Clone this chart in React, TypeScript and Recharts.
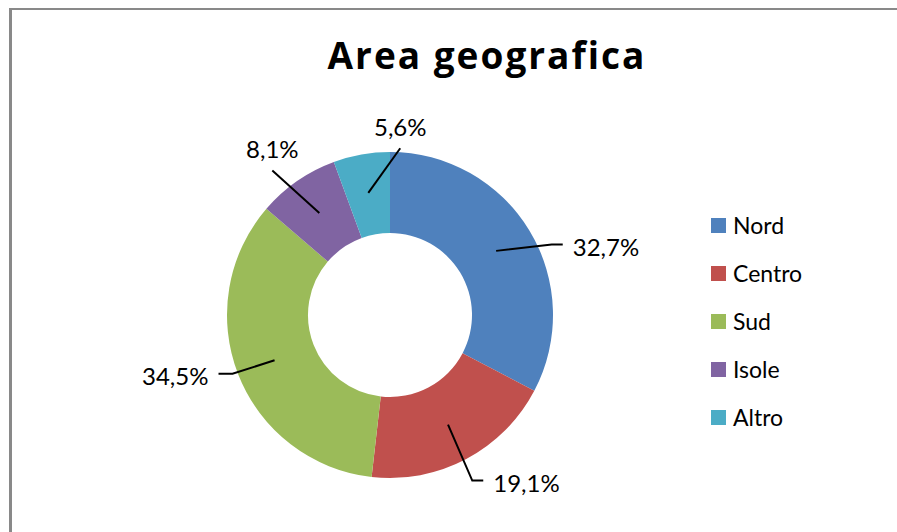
import { Legend, Pie, PieChart, Cell } from "recharts";

const regions = ["Nord", "Centro", "Sud", "Isole", "Altro"];
const shares = [32.7, 19.1, 34.5, 8.1, 5.6];
const colors = ["#4F81BD", "#C0504D", "#9BBB59", "#8064A2", "#4BACC6"];
// where each label sits, relative to its radial spot (layout only)
const labelNudge: [number, number][] = [[3, 40], [5, -18], [14, -16], [2, 6], [47, 18]];

const data = regions.map((name, i) => ({ name, value: shares[i] }));

const RAD = Math.PI / 180;
const labelFont = "Lato, 'Open Sans', sans-serif";

const renderLabel = (props: any) => {
  const { cx, cy, midAngle, index, value } = props;
  const cos = Math.cos(-midAngle * RAD);
  const sin = Math.sin(-midAngle * RAD);
  const sx = cx + 124 * cos;
  const sy = cy + 124 * sin;
  const [dx, dy] = labelNudge[index];
  const ax = cx + 210 * cos + dx;
  const ay = cy + 210 * sin + dy;
  const up = Math.sin(midAngle * RAD) > 0.7;
  const anchor = up ? "middle" : cos > 0 ? "start" : "end";
  let pts: number[][];
  if (up) pts = [[sx, sy], [ax, ay + 22]];
  else if (cos > 0) pts = [[sx, sy], [ax - 21, ay - 2], [ax - 10, ay - 2]];
  else pts = [[sx, sy], [ax + 24, ay - 2], [ax + 10, ay - 2]];
  return (
    <g key={`lbl-${index}`}>
      <polyline points={pts.map((p) => p.join(",")).join(" ")} fill="none" stroke="#000" strokeWidth={2} />
      <text x={ax} y={ay} textAnchor={anchor} dominantBaseline="central" fontFamily={labelFont} fontSize={24} fill="#000">
        {String(value).replace(".", ",")}%
      </text>
    </g>
  );
};

const renderLegend = (props: any) => {
  const payload = [...(props.payload || [])].sort(
    (a: any, b: any) => regions.indexOf(a.value) - regions.indexOf(b.value)
  );
  return (
    <div>
      {payload.map((entry: any) => (
        <div key={entry.value} style={{ display: "flex", alignItems: "center", height: 48 }}>
          <span style={{ width: 15, height: 15, background: entry.color, display: "inline-block" }} />
          <span style={{ marginLeft: 7, fontFamily: labelFont, fontSize: 23, color: "#000" }}>{entry.value}</span>
        </div>
      ))}
    </div>
  );
};

export default function App() {
  return (
    <div style={{ position: "fixed", left: 0, top: 0, width: 897, height: 532, overflow: "hidden", background: "#fff" }}>
      <div style={{ position: "absolute", left: 9, top: 8, width: 888, height: 2, background: "#898989" }} />
      <div style={{ position: "absolute", left: 9, top: 8, width: 3, height: 524, background: "#898989" }} />
      <svg width={897} height={532} style={{ position: "absolute", left: 0, top: 0 }}>
        <text x={487} y={69} textAnchor="middle" fontFamily="'Open Sans', sans-serif" fontWeight={700} fontSize={37} letterSpacing={2} fill="#000">
          Area geografica
        </text>
      </svg>
      <div style={{ position: "absolute", left: 0, top: 0 }}>
        <PieChart width={897} height={532} margin={{ top: 0, right: 0, bottom: 0, left: 0 }}>
          <Pie
            data={data}
            dataKey="value"
            nameKey="name"
            cx={390}
            cy={315}
            innerRadius={82}
            outerRadius={163}
            startAngle={90}
            endAngle={-270}
            stroke="none"
            labelLine={false}
            label={renderLabel}
            isAnimationActive={false}
          >
            {data.map((d, i) => (
              <Cell key={d.name} fill={colors[i]} />
            ))}
          </Pie>
          <Legend
            layout="vertical"
            content={renderLegend}
            wrapperStyle={{ position: "absolute", left: 711, top: 201, width: 160 }}
          />
        </PieChart>
      </div>
    </div>
  );
}
